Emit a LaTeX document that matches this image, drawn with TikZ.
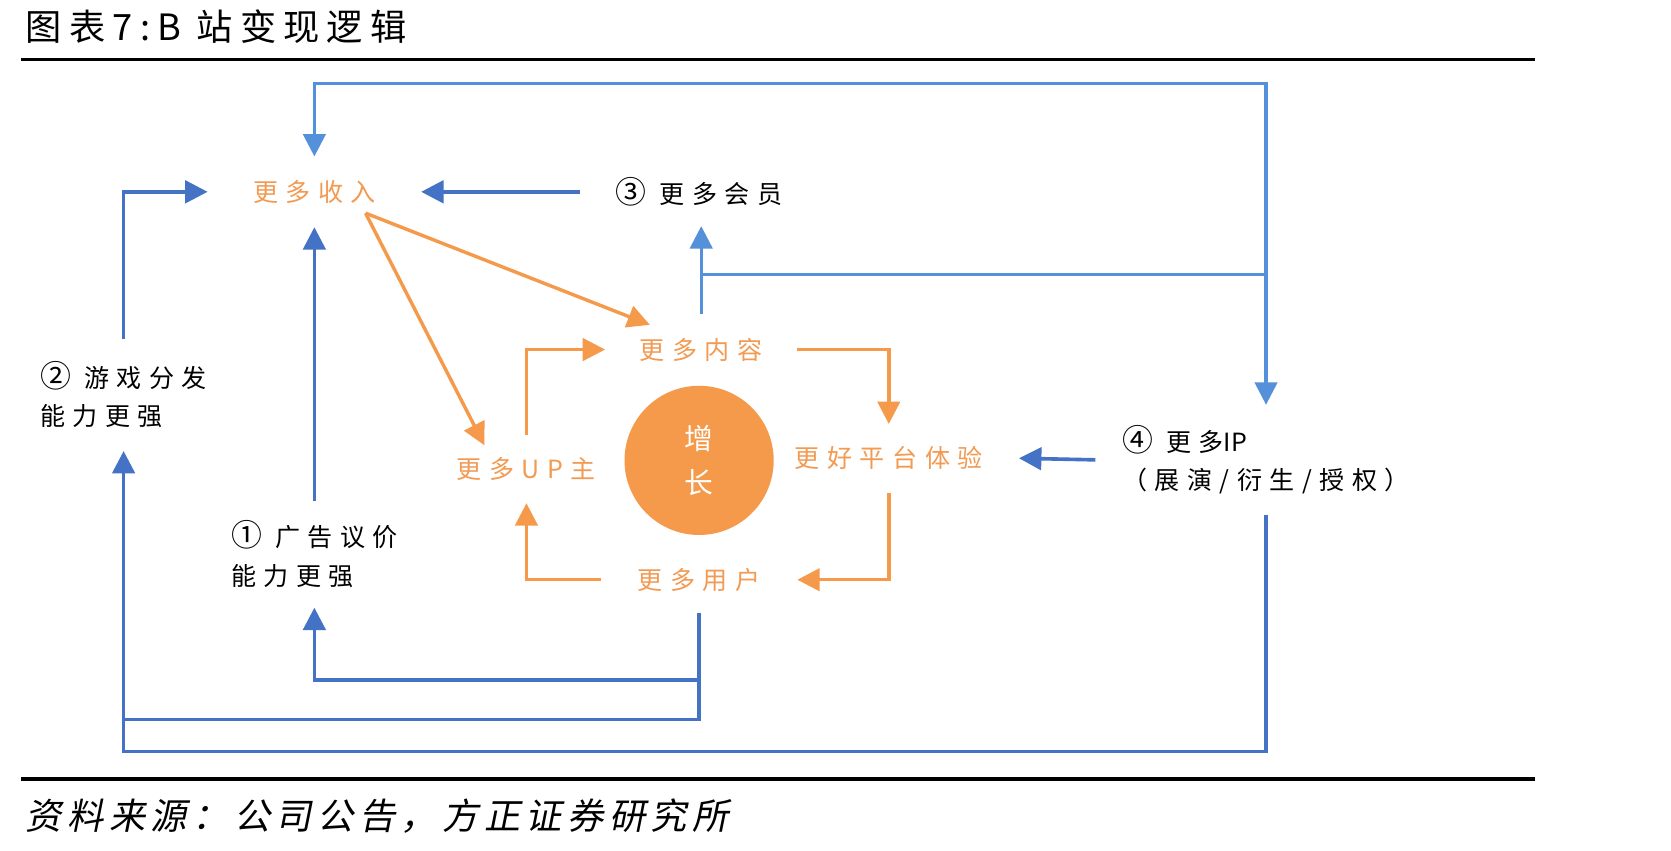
\documentclass[tikz,border=0pt]{standalone}
\usepackage{fontspec}
\setmainfont{Noto Sans CJK SC}
\newfontfamily\lblfont[LetterSpace=30]{Noto Sans CJK SC}
\newfontfamily\ttlfont[LetterSpace=20]{Noto Sans CJK SC}
\newfontfamily\ftrfont[LetterSpace=15,FakeSlant=0.2]{Noto Sans CJK SC}
\newcommand{\cnum}[1]{{\fontsize{29pt}{36pt}\selectfont #1}}
\usetikzlibrary{arrows.meta,calc}
\definecolor{bluD}{HTML}{4472C4}
\definecolor{bluL}{HTML}{5590DA}
\definecolor{org}{HTML}{F59A4A}
\definecolor{orgT}{HTML}{F29A52}
\begin{document}
\begin{tikzpicture}[x=1pt,y=-1pt,
  tip/.style={-{Triangle[length=21pt,width=21pt]}},
  bd/.style={draw=bluD, line width=3.4pt},
  bll/.style={draw=bluL, line width=3pt},
  od/.style={draw=org, line width=3.2pt},
  olab/.style={text=orgT, font={\lblfont\fontsize{23.5pt}{30pt}\selectfont}, inner sep=0pt},
  klab/.style={text=black, font={\lblfont\fontsize{23.5pt}{36pt}\selectfont}, inner sep=0pt, align=left}]
\useasboundingbox (0,0) rectangle (1568,798);
\fill[white] (0,0) rectangle (1568,798);
% title and rules
\node[anchor=base west, inner sep=0pt, font={\ttlfont\fontsize{34pt}{40pt}\selectfont}] (title) at (24,38) {图表7:B 站变现逻辑};
\draw[line width=3pt] (20,56) -- (1440,56);
\draw[line width=3pt] (20,731) -- (1440,731);
\node[anchor=base west, inner sep=0pt, font={\ftrfont\fontsize{34pt}{40pt}\selectfont}] (src) at (24,778) {资料来源：公司公告，方正证券研究所};
% nodes
\node[olab, minimum width=200, minimum height=66] (rev) at (295,180) {更多收入};
\node[klab, minimum width=224, minimum height=64] (mem) at (656,180) {\cnum{③} 更多会员};
\node[olab, minimum width=180, minimum height=66] (con) at (658,328) {更多内容};
\node[olab, minimum width=130, minimum height=64] (upz) at (494,440) {更多UP主};
\node[olab, minimum width=244, minimum height=64] (plat) at (834,430) {更好平台体验};
\node[olab, minimum width=184, minimum height=62] (usr) at (656,544) {更多用户};
\node[circle, fill=org, minimum size=140, inner sep=0pt, text=white, align=center,
      font={\lblfont\fontsize{27pt}{42pt}\selectfont}] (grow) at (656,432) {增\\长};
\node[klab, minimum height=105] (gam) at (116,370.5) {\cnum{②} 游戏分发\\能力更强};
\node[klab, minimum height=100] (ad) at (295,520) {\cnum{①} 广告议价\\能力更强};
\node[klab, minimum width=320, minimum height=103] (ip) at (1188,431.5) {\cnum{④} 更多{\addfontfeature{LetterSpace=0}IP}\\（展演/衍生/授权）};
% helper coordinates
\coordinate (topY) at (0,78);
\coordinate (bY1) at (0,638);
\coordinate (bY2) at (0,675);
\coordinate (bY3) at (0,705);
\coordinate (j1) at ($(con.north)!0.45!(con.north |- mem.south)$);
% light blue connectors
\draw[bll, tip] (con.north) -- (con.north |- mem.south);
\draw[bll, tip] (j1) -| (ip.north);
\draw[bll, tip] (ip.north |- j1) -- (ip.north |- topY) -| (rev.north);
% dark blue connectors
\draw[bd, tip] (mem.west) -- (rev.east);
\draw[bd, tip] (gam.north) |- (rev.west);
\draw[bd, tip] (ad.north) -- (rev.south);
\draw[bd, tip] (usr.south) -- (usr.south |- bY1) -| (ad.south);
\draw[bd, tip] (usr.south |- bY1) -- (usr.south |- bY2) -| (gam.south);
\draw[bd] (ip.south) -- (ip.south |- bY3) -| (gam.south |- bY2);
\draw[bd, tip] (ip.west) -- (plat.east);
% orange connectors
\draw[od, tip] ($(rev.center)+(48,20)$) -- ($(con.north west)+(42,10)$);
\draw[od, tip] ($(rev.center)+(48,20)$) -- ($(upz.north west)+(26,10)$);
\draw[od, tip] (upz.north) |- (con.west);
\draw[od, tip] (con.east) -| (plat.north);
\draw[od, tip] (plat.south) |- (usr.east);
\draw[od, tip] (usr.west) -| (upz.south);
\end{tikzpicture}
\end{document}
